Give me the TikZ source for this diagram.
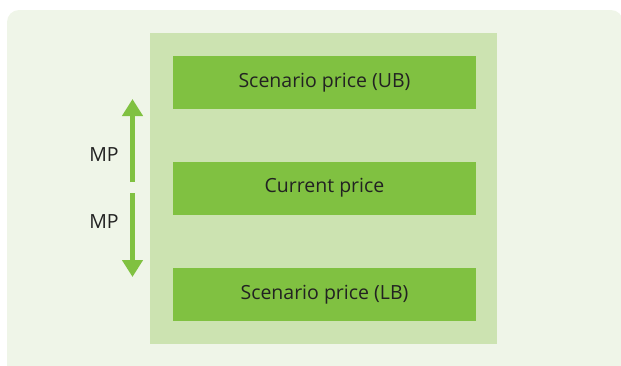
\documentclass[tikz,border=0pt]{standalone}
\usepackage{fontspec}
\setmainfont{Open Sans}
\usetikzlibrary{arrows.meta}
\definecolor{bgpale}{HTML}{EFF5E8}
\definecolor{panelgreen}{HTML}{CCE3B1}
\definecolor{boxgreen}{HTML}{80C141}
\definecolor{textdark}{HTML}{222222}
\tikzset{
  pricebox/.style={fill=boxgreen, minimum width=303pt, minimum height=53pt,
    inner sep=0pt, text=textdark, font=\fontsize{19.5}{23}\selectfont},
  mplabel/.style={text=textdark, font=\fontsize{19.5}{23}\selectfont},
  mparrow/.style={draw=boxgreen, line width=5pt,
    -{Triangle[width=20pt,length=17pt]}}
}
\begin{document}
\begin{tikzpicture}[x=1pt,y=-1pt]
    \useasboundingbox (0,0) rectangle (621,365);
    \clip (0,0) rectangle (621,365);
    % background
    \fill[bgpale, rounded corners=12pt] (7,10) rectangle (623,380);
    \fill[panelgreen] (150,33) rectangle (497,344);
    % price boxes
    \node[pricebox] (ub) at (324.5,82.5) {Scenario price (UB)};
    \node[pricebox] (cur) at (324.5,188) {Current price};
    \node[pricebox] (lb) at (324.5,294.5) {Scenario price (LB)};
    % arrows
    \coordinate (upstart) at (132.5,182);
    \coordinate (uptip) at (132.5,99);
    \coordinate (downstart) at (132.5,193);
    \coordinate (downtip) at (132.5,277);
    \draw[mparrow] (upstart) -- (uptip);
    \draw[mparrow] (downstart) -- (downtip);
    \node[mplabel] (mpup) at (104,155) {MP};
    \node[mplabel] (mpdown) at (104,222) {MP};
\end{tikzpicture}
\end{document}
